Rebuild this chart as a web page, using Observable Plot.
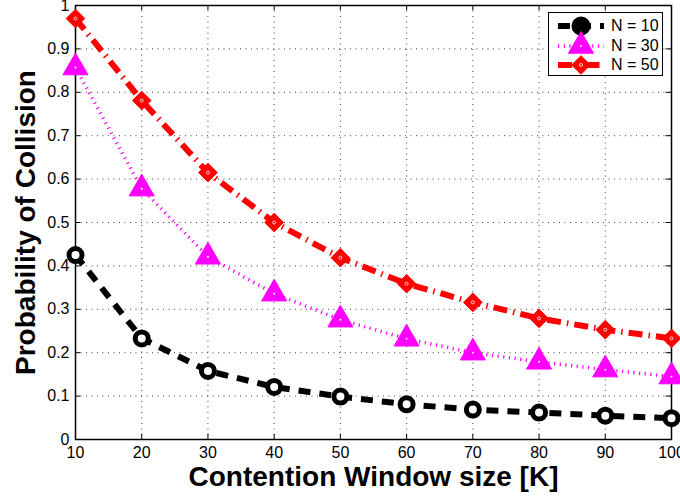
<!DOCTYPE html>
<html>
<head>
<meta charset="utf-8">
<script src="https://cdn.jsdelivr.net/npm/d3@7"></script>
<script src="https://cdn.jsdelivr.net/npm/@observablehq/plot@0.6"></script>
<style>
  body { margin: 0; background: #fff; }
  #wrap { position: relative; width: 680px; height: 498px; overflow: hidden; font-family: "Liberation Sans", Arial, sans-serif; }
  #legend { position: absolute; left: 548px; top: 12px; width: 115px; height: 64px; border: 1.5px solid #000; background: #fff; box-sizing: border-box; }
  .row { position: absolute; left: 0; height: 20px; display: flex; align-items: center; }
  .row span { font-size: 16px; margin-left: 2px; color: #000; }
</style>
</head>
<body>
<div id="wrap"></div>
<script>
const windowSizes = [10, 20, 30, 40, 50, 60, 70, 80, 90, 100];
const n10 = [0.425, 0.233, 0.158, 0.121, 0.099, 0.081, 0.069, 0.062, 0.055, 0.049];
const n30 = [0.857, 0.578, 0.421, 0.336, 0.276, 0.232, 0.200, 0.179, 0.161, 0.145];
const n50 = [0.970, 0.781, 0.615, 0.500, 0.419, 0.359, 0.316, 0.279, 0.253, 0.233];
const seriesNames = ["N = 10", "N = 30", "N = 50"];
const xTicks = [10, 20, 30, 40, 50, 60, 70, 80, 90, 100];
const yTicks = [0, 0.1, 0.2, 0.3, 0.4, 0.5, 0.6, 0.7, 0.8, 0.9, 1];
const xLabel = "Contention Window size [K]";
const yLabel = "Probability of Collision";

const toRows = (vals) => windowSizes.map((x, i) => ({x, y: vals[i]}));
const d10 = toRows(n10), d30 = toRows(n30), d50 = toRows(n50);

const gridStyle = {stroke: "#444", strokeWidth: 1, strokeDasharray: "1,4.5"};
const lineStyles = [
  {stroke: "#000", strokeWidth: 6, strokeDasharray: "12,9"},
  {stroke: "#ff00ff", strokeWidth: 3.5, strokeDasharray: "1.2,4.5"},
  {stroke: "#ff0000", strokeWidth: 6, strokeDasharray: "14,6,1.5,6"}
];

const chart = Plot.plot({
  width: 680,
  height: 498,
  marginLeft: 75,
  marginRight: 9,
  marginTop: 5,
  marginBottom: 59,
  style: {fontFamily: "'Liberation Sans', Arial, sans-serif", fontSize: "16px", color: "#000", background: "#fff", overflow: "visible"},
  x: {domain: [10, 100]},
  y: {domain: [0, 1]},
  marks: [
    Plot.ruleX(xTicks.slice(1, -1), {x: d => d, ...gridStyle}),
    Plot.ruleY(yTicks.slice(1, -1), {y: d => d, ...gridStyle}),
    Plot.ruleX(xTicks, {x: d => d, y1: 0, y2: 0.012, stroke: "#000", strokeWidth: 1}),
    Plot.ruleX(xTicks, {x: d => d, y1: 0.988, y2: 1, stroke: "#000", strokeWidth: 1}),
    Plot.ruleY(yTicks, {y: d => d, x1: 10, x2: 10.8, stroke: "#000", strokeWidth: 1}),
    Plot.ruleY(yTicks, {y: d => d, x1: 99.2, x2: 100, stroke: "#000", strokeWidth: 1}),
    Plot.axisX({ticks: xTicks, tickSize: 0, tickPadding: 7, tickFormat: d => String(d), label: null, fontSize: 16}),
    Plot.axisY({ticks: yTicks, tickSize: 0, tickPadding: 6, tickFormat: d => String(d), label: null, fontSize: 16}),
    Plot.frame({stroke: "#000", strokeWidth: 1.5}),
    // N = 10
    Plot.line(d10, {x: "x", y: "y", ...lineStyles[0], strokeLinecap: "butt", strokeLinejoin: "miter"}),
    Plot.dot(d10, {x: "x", y: "y", r: 6.5, stroke: "#000", strokeWidth: 5, fill: "#fff"}),
    // N = 30
    Plot.line(d30, {x: "x", y: "y", ...lineStyles[1], strokeLinecap: "butt", strokeLinejoin: "miter"}),
    Plot.dot(d30, {x: "x", y: "y", symbol: "triangle", r: 9.3, fill: "#ff00ff", stroke: "#ff00ff", strokeWidth: 1}),
    Plot.dot(d30, {x: "x", y: "y", r: 1, fill: "#fff"}),
    // N = 50
    Plot.line(d50, {x: "x", y: "y", ...lineStyles[2], strokeLinecap: "butt", strokeLinejoin: "miter"}),
    Plot.dot(d50, {x: "x", y: "y", symbol: "diamond2", r: 8.4, fill: "#ff0000", stroke: "#ff0000", strokeWidth: 1}),
    Plot.dot(d50, {x: "x", y: "y", r: 1.5, fill: "none", stroke: "#fff", strokeWidth: 0.8}),
    // axis titles
    Plot.text([xLabel], {text: d => d, frameAnchor: "bottom", lineAnchor: "middle", textAnchor: "middle", dy: 38, fontSize: 28, fontWeight: "bold", fill: "#000"}),
    Plot.text([yLabel], {text: d => d, frameAnchor: "left", lineAnchor: "middle", textAnchor: "middle", dx: -49, rotate: -90, fontSize: 28, fontWeight: "bold", fill: "#000"})
  ]
});

const wrap = document.getElementById("wrap");
wrap.appendChild(chart);

// legend
const legend = document.createElement("div");
legend.id = "legend";
wrap.appendChild(legend);
const markers = ["circle", "triangle", "diamond"];
seriesNames.forEach((name, i) => {
  const s = lineStyles[i];
  const row = document.createElement("div");
  row.className = "row";
  row.style.top = (3 + i * 19.5) + "px";
  const svg = d3.create("svg").attr("width", 60).attr("height", 20).style("overflow", "visible");
  svg.append("line").attr("x1", 9).attr("x2", 55).attr("y1", 10).attr("y2", 10)
    .attr("stroke", s.stroke).attr("stroke-width", s.strokeWidth).attr("stroke-dasharray", s.strokeDasharray);
  if (markers[i] === "circle") {
    svg.append("circle").attr("cx", 32).attr("cy", 10).attr("r", 7).attr("fill", "#000").attr("stroke", "#000").attr("stroke-width", 5);
  } else if (markers[i] === "triangle") {
    svg.append("path").attr("transform", "translate(32,10)").attr("d", d3.symbol(d3.symbolTriangle, Math.PI * 9.3 * 9.3)()).attr("fill", "#ff00ff").attr("stroke", "#ff00ff");
    svg.append("circle").attr("cx", 32).attr("cy", 10).attr("r", 1).attr("fill", "#fff");
  } else {
    svg.append("path").attr("transform", "translate(32,10)").attr("d", d3.symbol(d3.symbolDiamond2, Math.PI * 8.4 * 8.4)()).attr("fill", "#ff0000").attr("stroke", "#ff0000");
    svg.append("circle").attr("cx", 32).attr("cy", 10).attr("r", 1.5).attr("fill", "none").attr("stroke", "#fff").attr("stroke-width", 0.8);
  }
  row.appendChild(svg.node());
  const label = document.createElement("span");
  label.textContent = name;
  row.appendChild(label);
  legend.appendChild(row);
});
</script>
</body>
</html>
